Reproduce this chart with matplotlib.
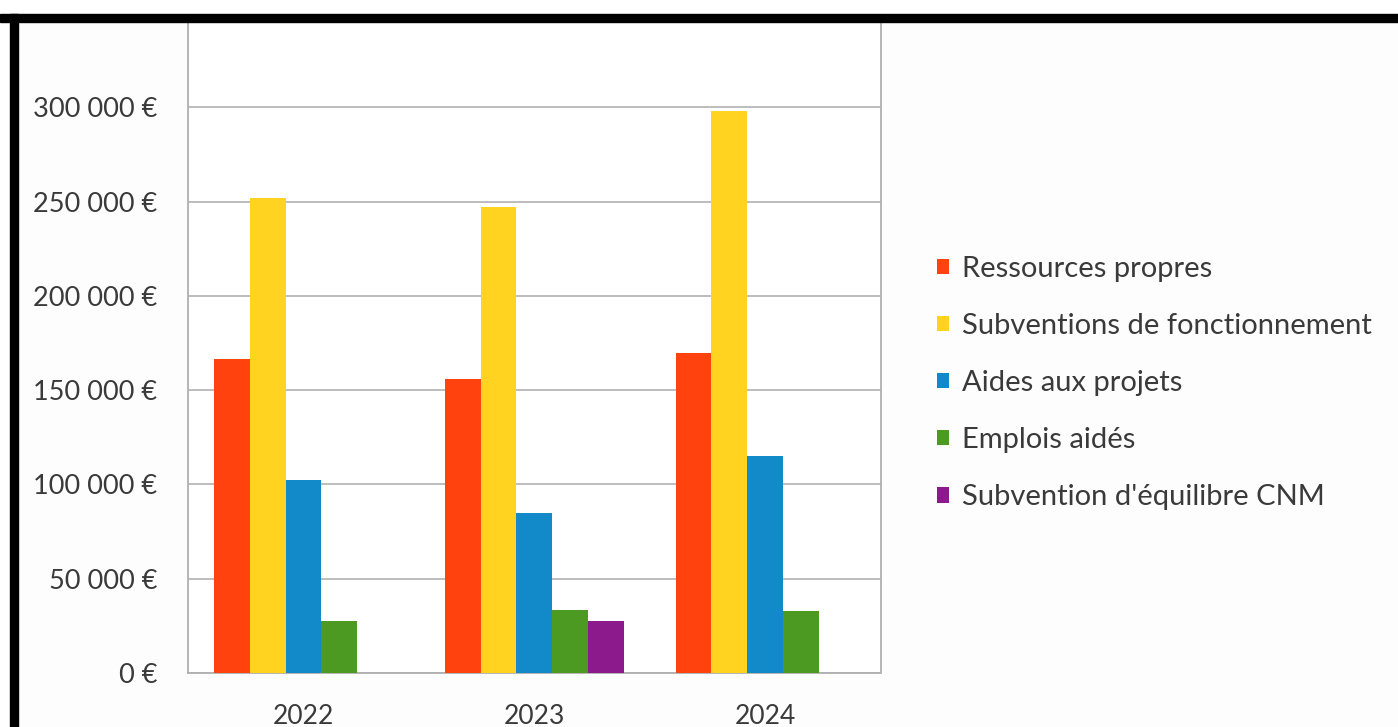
import numpy as np
import matplotlib.pyplot as plt
from matplotlib.patches import Rectangle
from matplotlib.ticker import FuncFormatter

plt.rcParams['font.family'] = ['Lato', 'DejaVu Sans']

# data
years = ['2022', '2023', '2024']
series = ['Ressources propres', 'Subventions de fonctionnement', 'Aides aux projets',
          'Emplois aidés', "Subvention d'équilibre CNM"]
ressources = [166500, 155700, 169500]
subv_fonct = [252000, 247000, 298000]
aides_projets = [102500, 85000, 115000]
emplois = [27400, 33600, 33000]
cnm = [0, 27400, 0]
colors = ['#ff420e', '#ffd320', '#1289c8', '#4d9a22', '#8c1a8c']

values = [ressources, subv_fonct, aides_projets, emplois, cnm]

fig = plt.figure(figsize=(13.98, 7.27), dpi=100)
fig.patch.set_facecolor('#fdfdfd')
ax = fig.add_axes([188 / 1398, 1 - 673 / 727, (880.5 - 188) / 1398, (673 - 13) / 727])
ax.set_facecolor('white')

x = np.arange(len(years))
w = 0.155
handles = []
for i, (name, vals) in enumerate(zip(series, values)):
    b = ax.bar(x + (i - 2) * w, vals, width=w, color=colors[i], label=name, zorder=3)
    handles.append(b)

ax.set_xlim(-0.5, 2.5)
ax.set_ylim(0, 350000)
ax.set_yticks(np.arange(0, 350001, 50000))
ax.yaxis.set_major_formatter(FuncFormatter(lambda v, p: f"{int(v):,} €".replace(',', ' ')))
ax.set_xticks(x)
ax.set_xticklabels(years)
ax.tick_params(axis='y', length=0, pad=22, labelsize=19.5, labelcolor='#3a3a3a')
ax.tick_params(axis='x', length=0, pad=22, labelsize=19, labelcolor='#3a3a3a')
ax.grid(axis='y', color='#b8b8b8', linewidth=1.3, zorder=0)
for s in ax.spines.values():
    s.set_color('#b0b0b0')
    s.set_linewidth(1.3)

fig.legend(handles=handles, loc='center left', bbox_to_anchor=(937 / 1398, 1 - 383 / 727),
           frameon=False, fontsize=21, handlelength=0.42, handleheight=0.42,
           handletextpad=0.45, labelspacing=1.07, borderpad=0, borderaxespad=0,
           labelcolor='#3a3a3a')

# screenshot frame: white strip, black bands
fig.patches.append(Rectangle((0, 1 - 14 / 727), 1, 14 / 727, transform=fig.transFigure,
                             color='white', zorder=10))
fig.patches.append(Rectangle((0, 1 - 22 / 727), 1, 8 / 727, transform=fig.transFigure,
                             color='black', zorder=11))
fig.patches.append(Rectangle((0, 0), 10 / 1398, 1, transform=fig.transFigure,
                             color='white', zorder=10))
fig.patches.append(Rectangle((10 / 1398, 0), 8 / 1398, 1 - 14 / 727, transform=fig.transFigure,
                             color='black', zorder=11))

fig.savefig('out.png', dpi=100, facecolor=fig.get_facecolor())
